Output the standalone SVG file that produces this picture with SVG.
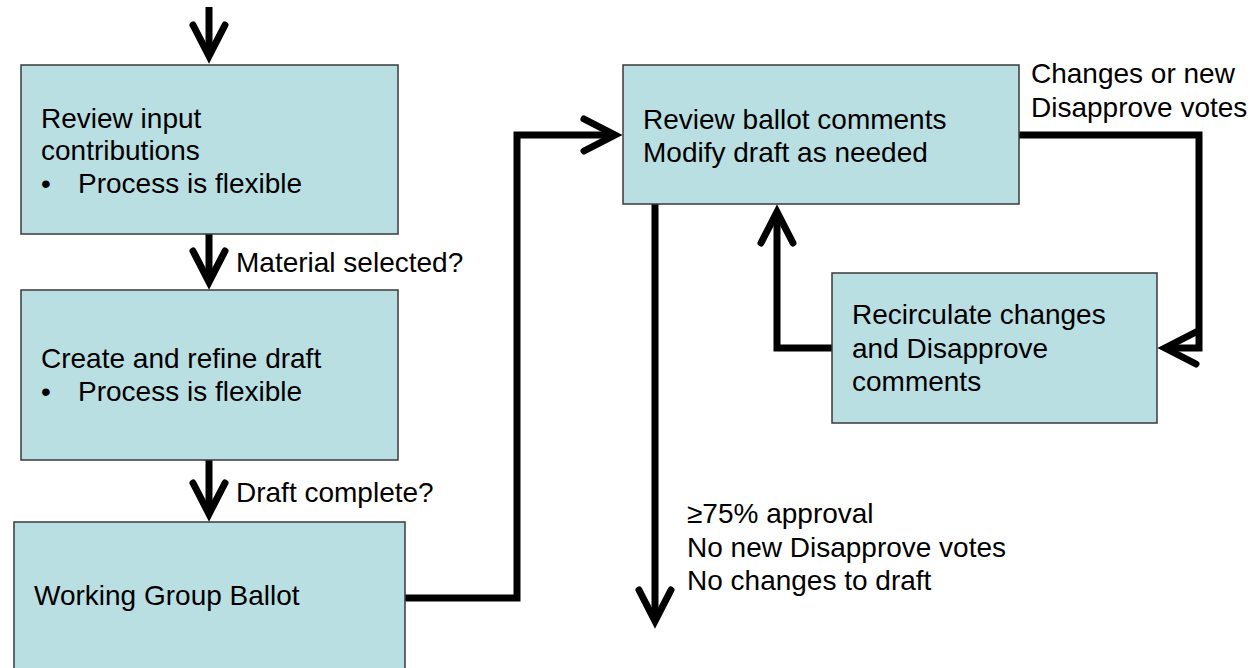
<svg xmlns="http://www.w3.org/2000/svg" width="1260" height="668" viewBox="0 0 1260 668">
  <style>
    .box { fill: #b9dfe3; stroke: #3a3a3a; stroke-width: 1.5; }
    .t { font-family: "Liberation Sans", Arial, sans-serif; font-size: 28px; fill: #000; }
    .c { fill: none; stroke: #000; stroke-width: 7; stroke-linejoin: miter; marker-end: url(#arr); }
  </style>
  <defs>
    <marker id="arr" markerUnits="userSpaceOnUse" markerWidth="60" markerHeight="60" viewBox="-45 -30 60 60" refX="0" refY="0" orient="auto" overflow="visible">
      <path d="M -31 -16 L 0 0 L -31 16" fill="none" stroke="#000" stroke-width="7" stroke-linecap="round" stroke-linejoin="miter"/>
    </marker>
  </defs>
  <rect width="1260" height="668" fill="#fff"/>

  <g id="connectors">
    <path class="c" d="M209 7 V56"/>
    <path class="c" d="M209 234 V282"/>
    <path class="c" d="M209 460 V514"/>
    <path class="c" d="M405 598 H517 V135 H615"/>
    <path class="c" d="M655 204 V621"/>
    <path class="c" d="M1019 135 H1199 V348 H1165"/>
    <path class="c" d="M832 348 H777 V212"/>
  </g>

  <g id="labels">
    <text class="t" x="236" y="272">Material selected?</text>
    <text class="t" x="236" y="502">Draft complete?</text>
    <text class="t" x="1031" y="83">Changes or new</text>
    <text class="t" x="1031" y="117">Disapprove votes</text>
    <text class="t" x="687" y="523">≥75% approval</text>
    <text class="t" x="687" y="557">No new Disapprove votes</text>
    <text class="t" x="687" y="590">No changes to draft</text>
  </g>

  <g id="node-review-input">
    <rect class="box" x="21" y="65" width="377" height="169"/>
    <text class="t" x="41" y="128">Review input</text>
    <text class="t" x="41" y="160">contributions</text>
    <text class="t" x="41" y="193">•</text>
    <text class="t" x="78" y="193">Process is flexible</text>
  </g>

  <g id="node-create-draft">
    <rect class="box" x="21" y="290" width="377" height="170"/>
    <text class="t" x="41" y="368">Create and refine draft</text>
    <text class="t" x="41" y="401">•</text>
    <text class="t" x="78" y="401">Process is flexible</text>
  </g>

  <g id="node-wg-ballot">
    <rect class="box" x="14" y="522" width="391" height="170"/>
    <text class="t" x="34" y="605">Working Group Ballot</text>
  </g>

  <g id="node-review-ballot">
    <rect class="box" x="623" y="65" width="396" height="139"/>
    <text class="t" x="643" y="129">Review ballot comments</text>
    <text class="t" x="643" y="162">Modify draft as needed</text>
  </g>

  <g id="node-recirculate">
    <rect class="box" x="832" y="273" width="325" height="150"/>
    <text class="t" x="852" y="324">Recirculate changes</text>
    <text class="t" x="852" y="358">and Disapprove</text>
    <text class="t" x="852" y="391">comments</text>
  </g>
</svg>
